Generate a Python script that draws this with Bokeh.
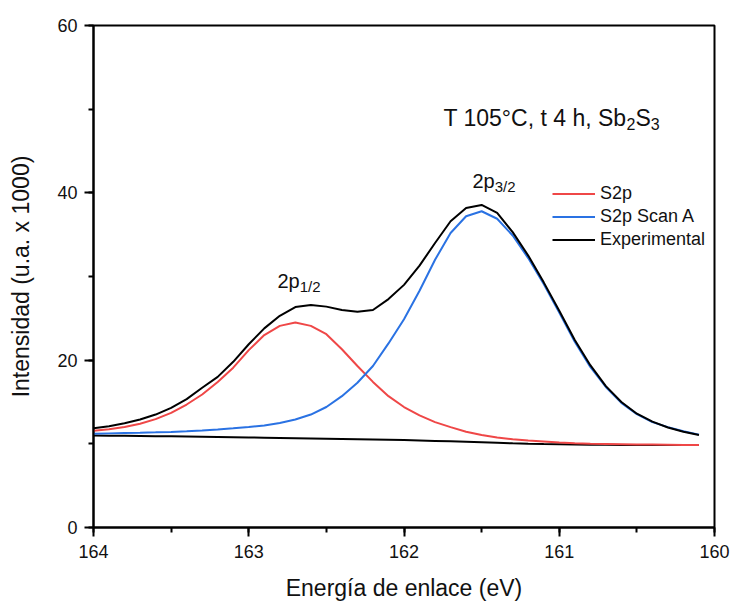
from bokeh.plotting import figure
from bokeh.models import Range1d, SingleIntervalTicker, Legend, LegendItem, ColumnDataSource
from bokeh.core.properties import value
from bokeh.embed import file_html
from bokeh.resources import INLINE

# ---------------- data ----------------
energy = [164.0, 163.9, 163.8, 163.7, 163.6, 163.5, 163.4, 163.3, 163.2, 163.1,
          163.0, 162.9, 162.8, 162.7, 162.6, 162.5, 162.4, 162.3, 162.2, 162.1,
          162.0, 161.9, 161.8, 161.7, 161.6, 161.5, 161.4, 161.3, 161.2, 161.1,
          161.0, 160.9, 160.8, 160.7, 160.6, 160.5, 160.4, 160.3, 160.2, 160.1]

s2p = [11.55, 11.75, 12.0, 12.4, 12.95, 13.7, 14.7, 15.9, 17.4, 19.1,
       21.2, 23.0, 24.1, 24.5, 24.1, 23.1, 21.3, 19.3, 17.4, 15.7,
       14.4, 13.4, 12.6, 12.0, 11.45, 11.05, 10.75, 10.55, 10.4, 10.28,
       10.15, 10.08, 10.02, 9.99, 9.96, 9.93, 9.91, 9.89, 9.87, 9.85]

s2p_scan_a = [11.2, 11.25, 11.3, 11.33, 11.37, 11.42, 11.5, 11.6, 11.72, 11.85,
              12.0, 12.2, 12.5, 12.9, 13.5, 14.4, 15.7, 17.3, 19.3, 22.0,
              24.9, 28.3, 32.0, 35.2, 37.2, 37.8, 36.9, 34.9, 32.2, 29.1,
              25.7, 22.2, 19.2, 16.8, 14.9, 13.55, 12.6, 12.0, 11.5, 11.1]

experimental = [11.85, 12.1, 12.45, 12.9, 13.5, 14.3, 15.35, 16.7, 18.0, 19.8,
                21.9, 23.8, 25.3, 26.35, 26.6, 26.4, 26.0, 25.8, 26.0, 27.3,
                29.0, 31.3, 34.0, 36.6, 38.2, 38.55, 37.6, 35.3, 32.5, 29.3,
                25.9, 22.4, 19.4, 16.9, 15.0, 13.6, 12.65, 11.95, 11.45, 11.05]

background = [11.0, 10.98, 10.96, 10.94, 10.92, 10.9, 10.88, 10.85, 10.82, 10.79,
              10.76, 10.73, 10.7, 10.67, 10.64, 10.61, 10.58, 10.55, 10.52, 10.49,
              10.45, 10.4, 10.35, 10.3, 10.24, 10.18, 10.12, 10.06, 10.01, 9.97,
              9.94, 9.91, 9.89, 9.88, 9.87, 9.86, 9.86, 9.85, 9.85, 9.85]

series_names = ["S2p", "S2p Scan A", "Experimental"]
x_label = "Energía de enlace (eV)"
y_label = "Intensidad (u.a. x 1000)"

# ---------------- style ----------------
FONT = "Liberation Sans"
RED = "#EF4747"
BLUE = "#2A72E3"
BLACK = "#000000"

p = figure(frame_width=621, frame_height=502,
           min_border_left=93, min_border_right=21, min_border_top=25, min_border_bottom=77,
           x_range=Range1d(164, 160), y_range=Range1d(0, 60),
           output_backend="svg", toolbar_location=None)
p.background_fill_color = "white"
p.border_fill_color = "white"
p.outline_line_color = BLACK
p.outline_line_width = 2
p.xgrid.visible = False
p.ygrid.visible = False

p.xaxis.ticker = SingleIntervalTicker(interval=1, num_minor_ticks=2)
p.yaxis.ticker = SingleIntervalTicker(interval=20, num_minor_ticks=2)

for ax in (p.xaxis[0], p.yaxis[0]):
    ax.axis_line_width = 2
    ax.axis_line_color = BLACK
    ax.major_tick_line_width = 2
    ax.minor_tick_line_width = 2
    ax.major_tick_line_color = BLACK
    ax.minor_tick_line_color = BLACK
    ax.major_tick_out = 9
    ax.major_tick_in = 0
    ax.minor_tick_out = 5
    ax.minor_tick_in = 0
    ax.major_label_text_font = FONT
    ax.major_label_text_font_size = "18px"
    ax.major_label_text_color = "#111111"
    ax.axis_label_text_font = FONT
    ax.axis_label_text_font_size = "23px"
    ax.axis_label_text_font_style = "normal"
    ax.axis_label_text_color = "#111111"

p.xaxis.axis_label = x_label
p.yaxis.axis_label = y_label
p.xaxis.major_label_standoff = 8
p.yaxis.major_label_standoff = 7
p.xaxis.axis_label_standoff = 14
p.yaxis.axis_label_standoff = 20

src = ColumnDataSource(dict(x=energy, s2p=s2p, scan=s2p_scan_a, exp=experimental, bg=background))

r_bg = p.line("x", "bg", source=src, line_color=BLACK, line_width=2)
r_red = p.line("x", "s2p", source=src, line_color=RED, line_width=2)
r_blue = p.line("x", "scan", source=src, line_color=BLUE, line_width=2)
r_exp = p.line("x", "exp", source=src, line_color=BLACK, line_width=2)

legend = Legend(items=[LegendItem(label=series_names[0], renderers=[r_red]),
                       LegendItem(label=series_names[1], renderers=[r_blue]),
                       LegendItem(label=series_names[2], renderers=[r_exp])],
                location=(459, 276))
legend.label_text_font = FONT
legend.label_text_font_size = "18px"
legend.label_text_color = "#111111"
legend.glyph_width = 43
legend.glyph_height = 23
legend.label_height = 23
legend.label_standoff = 5
legend.spacing = 0
legend.padding = 0
legend.margin = 0
legend.border_line_alpha = 0
legend.background_fill_alpha = 0
p.add_layout(legend)

# ---------------- annotations (composite texts with subscripts) ----------------
W = {'T': 611, ' ': 278, '1': 556, '0': 556, '5': 556, '°': 400, 'C': 722, ',': 278,
     't': 278, '4': 556, 'h': 556, 'S': 667, 'b': 556, '2': 556, '3': 556, 'p': 556, '/': 278}

def text_width(s, size):
    return sum(W.get(c, 556) for c in s) * size / 1000.0

def composite(x, y, pieces):
    off = 0.0
    for txt, size, dy in pieces:
        p.text(x=[x], y=[y], text=[txt], x_offset=off, y_offset=dy,
               text_font=value(FONT), text_font_size=f"{size}px",
               text_color="#111111", text_align="left", text_baseline="alphabetic")
        off += text_width(txt, size)

cond_x, cond_y = 161.746, 49.0
peak1_x, peak1_y = 162.815, 29.5
peak2_x, peak2_y = 161.559, 41.45

composite(cond_x, cond_y, [("T 105°C, t 4 h, Sb", 23, 0), ("2", 16, 6), ("S", 23, 0), ("3", 16, 6)])
composite(peak1_x, peak1_y, [("2p", 20, 0), ("1/2", 15, 6)])
composite(peak2_x, peak2_y, [("2p", 20, 0), ("3/2", 15, 6)])

open("out.html", "w").write(file_html(p, INLINE))
